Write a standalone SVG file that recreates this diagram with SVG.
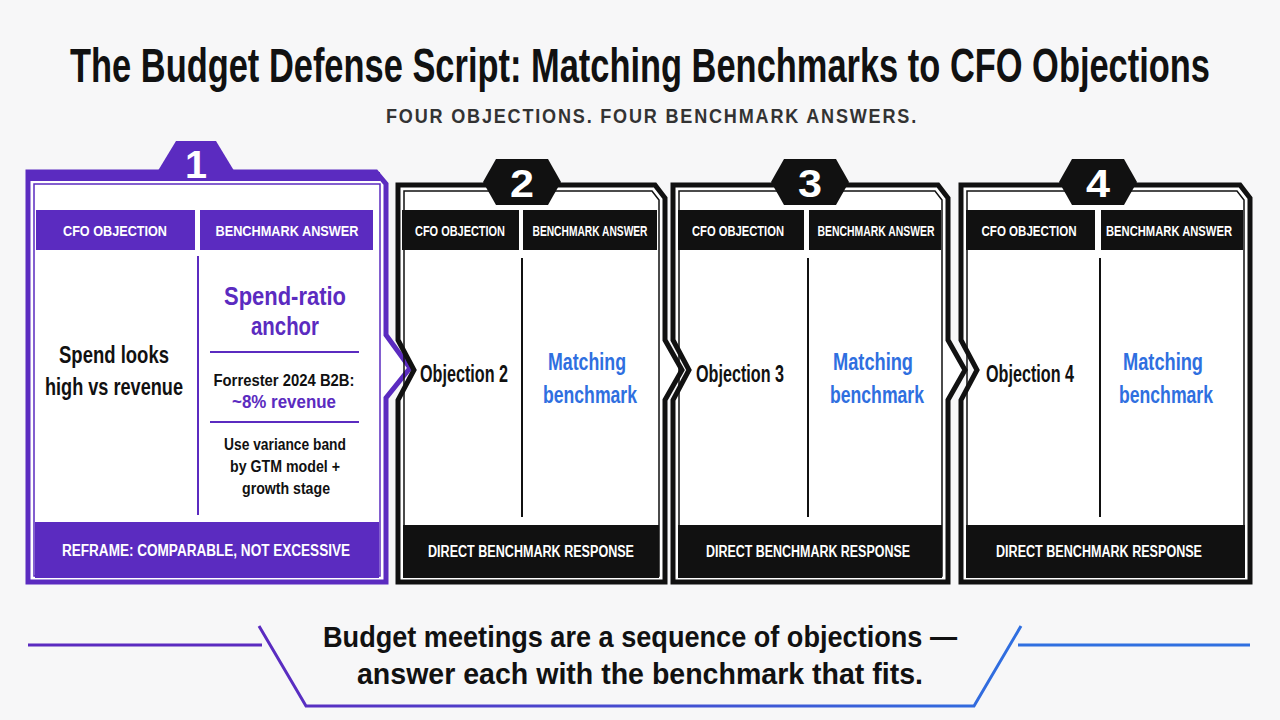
<svg xmlns="http://www.w3.org/2000/svg" width="1280" height="720" viewBox="0 0 1280 720">
<defs>
<linearGradient id="g" x1="0" x2="1" y1="0" y2="0"><stop offset="0" stop-color="#5b2bc0"/><stop offset="1" stop-color="#2f6fe0"/></linearGradient>
<style>
text{font-family:"Liberation Sans",Arial,sans-serif;font-weight:bold;text-anchor:middle}
.frame{fill:#fff;stroke:#111;stroke-width:5;stroke-linejoin:miter}
.inner{fill:none;stroke:#111;stroke-width:1.5}
.hb{fill:#111}
.hw{fill:#fff;font-size:15px}
.obj{font-size:23px;fill:#111}
.ans{font-size:24px;fill:#2f6fe0}
.div{stroke:#111;stroke-width:2}
.num{fill:#fff;font-size:38px}
.foot{fill:#fff;font-size:16px}
</style>
</defs>
<rect width="1280" height="720" fill="#f7f7f8"/>
<text x="640" y="82" font-size="48" fill="#111" textLength="1140" lengthAdjust="spacingAndGlyphs">The Budget Defense Script: Matching Benchmarks to CFO Objections</text>
<text x="652" y="123" font-size="20" fill="#333" letter-spacing="2" textLength="532" lengthAdjust="spacingAndGlyphs">FOUR OBJECTIONS. FOUR BENCHMARK ANSWERS.</text>

<g id="card1">
<path d="M28,172 L376,172 L386,184 L386,335 L410,368 L386,398 L386,582 L28,582 Z" fill="#fff" stroke="#5b2bc0" stroke-width="5"/>
<polygon points="156,174 176,141 216,141 236,174" fill="#5b2bc0"/>
<rect x="28" y="172" width="352" height="9" fill="#5b2bc0"/>
<path d="M34,184 L380,184 L380,576 L34,576 Z" fill="none" stroke="#5b2bc0" stroke-width="1.5"/>
<text x="196" y="178" class="num" textLength="22" lengthAdjust="spacingAndGlyphs">1</text>
<rect x="36" y="210" width="159" height="40" fill="#5b2bc0"/>
<rect x="200" y="210" width="173" height="40" fill="#5b2bc0"/>
<text x="115" y="236" class="hw" textLength="104" lengthAdjust="spacingAndGlyphs">CFO OBJECTION</text>
<text x="287" y="236" class="hw" textLength="143" lengthAdjust="spacingAndGlyphs">BENCHMARK ANSWER</text>
<line x1="198" y1="256" x2="198" y2="515" stroke="#5b2bc0" stroke-width="2"/>
<text x="114" y="363" font-size="24" fill="#111" textLength="110" lengthAdjust="spacingAndGlyphs">Spend looks</text>
<text x="114" y="395" font-size="24" fill="#111" textLength="138" lengthAdjust="spacingAndGlyphs">high vs revenue</text>
<text x="285" y="305" font-size="26" fill="#5b2bc0" textLength="122" lengthAdjust="spacingAndGlyphs">Spend-ratio</text>
<text x="285" y="335" font-size="26" fill="#5b2bc0" textLength="68" lengthAdjust="spacingAndGlyphs">anchor</text>
<line x1="210" y1="352" x2="359" y2="352" stroke="#5b2bc0" stroke-width="2"/>
<text x="284" y="386" font-size="17" fill="#111" textLength="141" lengthAdjust="spacingAndGlyphs">Forrester 2024 B2B:</text>
<text x="284" y="408" font-size="19" fill="#5b2bc0" textLength="104" lengthAdjust="spacingAndGlyphs">~8% revenue</text>
<line x1="210" y1="422" x2="359" y2="422" stroke="#5b2bc0" stroke-width="2"/>
<text x="285" y="450" font-size="17" fill="#111" textLength="122" lengthAdjust="spacingAndGlyphs">Use variance band</text>
<text x="285" y="472" font-size="17" fill="#111" textLength="110" lengthAdjust="spacingAndGlyphs">by GTM model +</text>
<text x="286" y="494" font-size="17" fill="#111" textLength="88" lengthAdjust="spacingAndGlyphs">growth stage</text>
<rect x="35" y="522" width="344" height="56" fill="#5b2bc0"/>
<text x="206" y="556" class="foot" textLength="288" lengthAdjust="spacingAndGlyphs">REFRAME: COMPARABLE, NOT EXCESSIVE</text>
</g>

<g id="card2">
<path class="frame" d="M398,185 L655,185 L665,198 L665,340 L682,370 L665,400 L665,582 L398,582 L398,400 L414,370 L398,340 Z"/>
<path class="inner" d="M404,191 L652,191 L659,200 L659,576 L404,576 Z"/>
<polygon class="hb" points="496,159 548,159 561,182 548,205 496,205 483,182"/>
<text x="522" y="197" class="num" textLength="24" lengthAdjust="spacingAndGlyphs">2</text>
<rect x="402" y="210" width="117" height="40" class="hb"/>
<rect x="523" y="210" width="134" height="40" class="hb"/>
<text x="460" y="236" class="hw" textLength="90" lengthAdjust="spacingAndGlyphs">CFO OBJECTION</text>
<text x="590" y="236" class="hw" textLength="115" lengthAdjust="spacingAndGlyphs">BENCHMARK ANSWER</text>
<line class="div" x1="522" y1="258" x2="522" y2="517"/>
<text x="464" y="382" class="obj" textLength="88" lengthAdjust="spacingAndGlyphs">Objection 2</text>
<text x="587" y="370" class="ans" textLength="78" lengthAdjust="spacingAndGlyphs">Matching</text>
<text x="590" y="403" class="ans" textLength="94" lengthAdjust="spacingAndGlyphs">benchmark</text>
<rect x="403" y="525" width="256" height="53" class="hb"/>
<text x="531" y="557" class="foot" textLength="206" lengthAdjust="spacingAndGlyphs">DIRECT BENCHMARK RESPONSE</text>
</g>

<g id="card3">
<path class="frame" d="M673,185 L938,185 L948,198 L948,340 L965,370 L948,400 L948,582 L673,582 L673,400 L689,370 L673,340 Z"/>
<path class="inner" d="M679,191 L935,191 L942,200 L942,576 L679,576 Z"/>
<polygon class="hb" points="784,159 836,159 849,182 836,205 784,205 771,182"/>
<text x="810" y="197" class="num" textLength="24" lengthAdjust="spacingAndGlyphs">3</text>
<rect x="678" y="210" width="126" height="40" class="hb"/>
<rect x="809" y="210" width="132" height="40" class="hb"/>
<text x="738" y="236" class="hw" textLength="92" lengthAdjust="spacingAndGlyphs">CFO OBJECTION</text>
<text x="876" y="236" class="hw" textLength="117" lengthAdjust="spacingAndGlyphs">BENCHMARK ANSWER</text>
<line class="div" x1="808" y1="258" x2="808" y2="517"/>
<text x="740" y="382" class="obj" textLength="88" lengthAdjust="spacingAndGlyphs">Objection 3</text>
<text x="873" y="370" class="ans" textLength="80" lengthAdjust="spacingAndGlyphs">Matching</text>
<text x="877" y="403" class="ans" textLength="94" lengthAdjust="spacingAndGlyphs">benchmark</text>
<rect x="678" y="525" width="264" height="53" class="hb"/>
<text x="808" y="557" class="foot" textLength="204" lengthAdjust="spacingAndGlyphs">DIRECT BENCHMARK RESPONSE</text>
</g>

<g id="card4">
<path class="frame" d="M961,185 L1240,185 L1250,198 L1250,582 L961,582 L961,400 L977,370 L961,340 Z"/>
<path class="inner" d="M967,191 L1237,191 L1244,200 L1244,576 L967,576 Z"/>
<polygon class="hb" points="1072,159 1124,159 1137,182 1124,205 1072,205 1059,182"/>
<text x="1098" y="197" class="num" textLength="24" lengthAdjust="spacingAndGlyphs">4</text>
<rect x="966" y="210" width="129" height="40" class="hb"/>
<rect x="1101" y="210" width="142" height="40" class="hb"/>
<text x="1029" y="236" class="hw" textLength="95" lengthAdjust="spacingAndGlyphs">CFO OBJECTION</text>
<text x="1169" y="236" class="hw" textLength="126" lengthAdjust="spacingAndGlyphs">BENCHMARK ANSWER</text>
<line class="div" x1="1100" y1="258" x2="1100" y2="517"/>
<text x="1030" y="382" class="obj" textLength="88" lengthAdjust="spacingAndGlyphs">Objection 4</text>
<text x="1163" y="370" class="ans" textLength="80" lengthAdjust="spacingAndGlyphs">Matching</text>
<text x="1166" y="403" class="ans" textLength="94" lengthAdjust="spacingAndGlyphs">benchmark</text>
<rect x="966" y="525" width="279" height="53" class="hb"/>
<text x="1099" y="557" class="foot" textLength="206" lengthAdjust="spacingAndGlyphs">DIRECT BENCHMARK RESPONSE</text>
</g>

<g id="banner">
<line x1="28" y1="645" x2="262" y2="645" stroke="#5b2bc0" stroke-width="3"/>
<line x1="1018" y1="645" x2="1250" y2="645" stroke="#2f6fe0" stroke-width="3"/>
<path d="M259,626 L306,706 L974,706 L1021,626" fill="none" stroke="url(#g)" stroke-width="3"/>
<text x="640" y="647" font-size="30" fill="#111" textLength="634" lengthAdjust="spacingAndGlyphs">Budget meetings are a sequence of objections —</text>
<text x="640" y="684" font-size="30" fill="#111" textLength="566" lengthAdjust="spacingAndGlyphs">answer each with the benchmark that fits.</text>
</g>
</svg>
